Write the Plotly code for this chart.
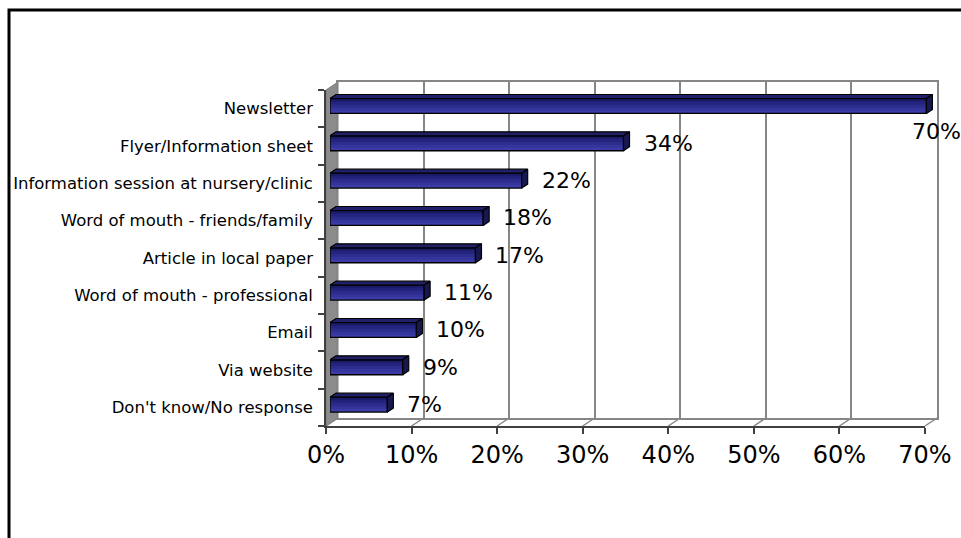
import math
import plotly.graph_objects as go

# ---------------- data ----------------
categories = [
    "Newsletter",
    "Flyer/Information sheet",
    "Information session at nursery/clinic",
    "Word of mouth - friends/family",
    "Article in local paper",
    "Word of mouth - professional",
    "Email",
    "Via website",
    "Don't know/No response",
]
values = [69.7, 34.3, 22.4, 17.9, 17.0, 11.0, 10.1, 8.5, 6.7]
x_ticks = [0, 10, 20, 30, 40, 50, 60, 70]
x_tick_labels = [f"{t}%" for t in x_ticks]

# ---------------- geometry / style ----------------
W, H = 961, 538
FONT = "DejaVu Sans"
FRONT_L, FRONT_R, FRONT_T, FRONT_B = 326, 925, 90, 426
DEPTH_X, DEPTH_Y = 12, -8          # wall depth in px
BAR_PLANE_X, BAR_PLANE_Y = 4, -2.7 # bar front plane offset in px
BAR_DEPTH_X, BAR_DEPTH_Y = 6, -4   # bar depth in px
XMAX = x_ticks[-1]
n = len(categories)
scale_x = (FRONT_R - FRONT_L) / XMAX
scale_y = (FRONT_B - FRONT_T) / n
BAR_XMAX = 72

WALL_LINE = "#868686"
AXIS_DARK = "#404040"
# from bottom (lightest) to top (darkest)
face_colors = ["#3c3ca6", "#34349a", "#2c2c8c", "#24247e", "#1b1b6c"]
TOP_COLOR = "#202068"
SIDE_COLOR = "#18184f"


def px(x):
    return x / W


def py(y):
    return 1 - y / H


fig = go.Figure()

# back wall subplot (x / y) and front subplot (x2 / y2): dummy traces
fig.add_trace(go.Scatter(x=[None], y=[None], xaxis="x", yaxis="y",
                         showlegend=False, hoverinfo="skip"))
fig.add_trace(go.Scatter(x=[None], y=[None], xaxis="x2", yaxis="y2",
                         showlegend=False, hoverinfo="skip"))

# bar front faces (nested layers to mimic vertical gradient)
ypos = list(range(n))
bw = 0.40
m = len(face_colors)
for k, c in enumerate(face_colors):
    w = bw * (m - k) / m
    fig.add_trace(go.Bar(
        x=values, y=ypos, base=0, orientation="h",
        width=w, offset=-bw / 2,
        marker=dict(color=c, line=dict(width=0)),
        xaxis="x3", yaxis="y3", showlegend=False, hoverinfo="skip",
    ))
fig.add_trace(go.Bar(
    x=values, y=ypos, base=0, orientation="h",
    width=bw, offset=-bw / 2,
    marker=dict(color="rgba(0,0,0,0)", line=dict(width=1.3, color="black")),
    xaxis="x3", yaxis="y3", showlegend=False, hoverinfo="skip",
))

# top and side faces
ddx = BAR_DEPTH_X / scale_x
ddy = BAR_DEPTH_Y / scale_y
tx, ty, sx, sy = [], [], [], []
for i, v in enumerate(values):
    yt, yb = i - bw / 2, i + bw / 2
    tx += [0, v, v + ddx, ddx, 0, None]
    ty += [yt, yt, yt + ddy, yt + ddy, yt, None]
    sx += [v, v + ddx, v + ddx, v, v, None]
    sy += [yt, yt + ddy, yb + ddy, yb, yt, None]
fig.add_trace(go.Scatter(x=tx, y=ty, mode="lines", fill="toself",
                         fillcolor=TOP_COLOR, line=dict(color="black", width=1.2),
                         xaxis="x3", yaxis="y3", showlegend=False, hoverinfo="skip"))
fig.add_trace(go.Scatter(x=sx, y=sy, mode="lines", fill="toself",
                         fillcolor=SIDE_COLOR, line=dict(color="black", width=1.2),
                         xaxis="x3", yaxis="y3", showlegend=False, hoverinfo="skip"))

# value labels
annotations = []
for i, v in enumerate(values):
    label = f"{math.floor(v + 0.5)}%"
    if v > 60:
        xs, ys = -16, -26
    else:
        xs, ys = 18, 0
    annotations.append(dict(
        x=v, y=i, xref="x3", yref="y3", text=label, showarrow=False,
        xanchor="left", yanchor="middle", xshift=xs, yshift=ys,
        font=dict(family=FONT, size=22, color="black"),
    ))

# shapes: frame, side wall, floor diagonals
shapes = [
    dict(type="rect", xref="paper", yref="paper",
         x0=px(9), x1=px(980), y0=py(570), y1=py(10),
         line=dict(color="black", width=3), fillcolor="rgba(0,0,0,0)"),
    dict(type="path", xref="paper", yref="paper", layer="below",
         path=(f"M {px(FRONT_L)} {py(FRONT_T)} L {px(FRONT_L + DEPTH_X)} {py(FRONT_T + DEPTH_Y)} "
               f"L {px(FRONT_L + DEPTH_X)} {py(FRONT_B + DEPTH_Y)} L {px(FRONT_L)} {py(FRONT_B)} Z"),
         fillcolor="#8c8c8c", line=dict(color="#7a7a7a", width=1)),
]
for t in x_ticks:
    fx = FRONT_L + t * scale_x
    shapes.append(dict(type="line", xref="paper", yref="paper", layer="below",
                       x0=px(fx), y0=py(FRONT_B), x1=px(fx + DEPTH_X), y1=py(FRONT_B + DEPTH_Y),
                       line=dict(color=WALL_LINE, width=1.5)))

cat_centers = list(range(n))
cat_bounds = [i - 0.5 for i in range(n + 1)]

fig.update_layout(
    width=W, height=H,
    margin=dict(l=0, r=0, t=0, b=0),
    paper_bgcolor="white", plot_bgcolor="rgba(0,0,0,0)",
    barmode="overlay", showlegend=False,
    font=dict(family=FONT, color="black"),
    shapes=shapes, annotations=annotations,
    # back wall
    xaxis=dict(domain=[px(FRONT_L + DEPTH_X), px(FRONT_R + DEPTH_X)], range=[0, XMAX],
               anchor="y", tickvals=x_ticks, showticklabels=False, ticks="",
               showgrid=True, gridcolor=WALL_LINE, gridwidth=1.5,
               showline=True, mirror=True, linecolor=WALL_LINE, linewidth=1.5,
               zeroline=False, automargin=False, fixedrange=True),
    yaxis=dict(domain=[py(FRONT_B + DEPTH_Y), py(FRONT_T + DEPTH_Y)], range=[n - 0.5, -0.5],
               anchor="x", showticklabels=False, ticks="", showgrid=False,
               showline=True, mirror=True, linecolor=WALL_LINE, linewidth=1.5,
               zeroline=False, automargin=False, fixedrange=True),
    # front plane
    xaxis2=dict(domain=[px(FRONT_L), px(FRONT_R)], range=[0, XMAX], anchor="y2",
                tickvals=x_ticks, ticktext=x_tick_labels, ticks="outside", ticklen=6,
                tickcolor=AXIS_DARK, tickwidth=1.5, showline=True, linecolor=AXIS_DARK,
                linewidth=1.5, showgrid=False, zeroline=False, automargin=False,
                tickfont=dict(family=FONT, size=24, color="black"), fixedrange=True),
    yaxis2=dict(domain=[py(FRONT_B), py(FRONT_T)], range=[n - 0.5, -0.5], anchor="x2",
                tickvals=cat_centers, ticktext=categories, ticks="",
                minor=dict(tickvals=cat_bounds, ticks="outside", ticklen=6,
                           tickcolor=AXIS_DARK, tickwidth=1.5, showgrid=False),
                showline=True, linecolor=AXIS_DARK, linewidth=1.5, showgrid=False,
                zeroline=False, automargin=False, ticklabelstandoff=8,
                tickfont=dict(family=FONT, size=16.5, color="black"), fixedrange=True),
    # bars plane
    xaxis3=dict(domain=[px(FRONT_L + BAR_PLANE_X), px(FRONT_L + BAR_PLANE_X + BAR_XMAX * scale_x)],
                range=[0, BAR_XMAX], anchor="y3", visible=False, fixedrange=True),
    yaxis3=dict(domain=[py(FRONT_B + BAR_PLANE_Y), py(FRONT_T + BAR_PLANE_Y)],
                range=[n - 0.5, -0.5], anchor="x3", visible=False, fixedrange=True),
)

fig.write_html("out.html", config={"displayModeBar": False},
               post_script="document.body.style.margin='0px';")
